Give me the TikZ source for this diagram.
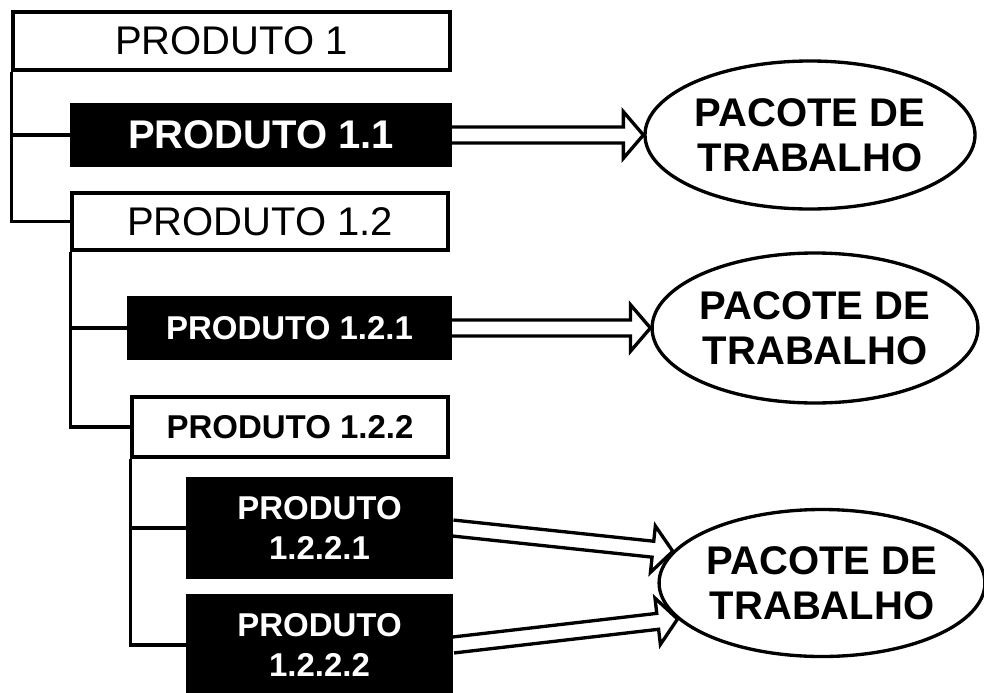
\documentclass[tikz,border=0pt]{standalone}
\usepackage{fontspec}
\setmainfont{Liberation Sans}
\usetikzlibrary{calc,shapes.geometric}

\tikzset{
  outline/.style={line width=2.5pt, line join=miter},
  plainbox/.style={rectangle, draw=black, fill=white, outline, inner sep=0pt, align=center},
  darkbox/.style={rectangle, draw=black, fill=black, text=white, outline, inner sep=0pt, align=center},
  bigtext/.style={font=\fontsize{30}{36}\selectfont},
  bigbold/.style={font=\fontsize{30}{36}\selectfont\bfseries},
  midbold/.style={font=\fontsize{24.75}{30}\selectfont\bfseries},
  workpkg/.style={ellipse, draw=black, fill=white, outline, inner sep=0pt, align=center,
    font=\fontsize{30}{33.75}\selectfont\bfseries},
  link/.style={outline},
}

% hollow double-line arrow from #1 to the tip #2
\newcommand\workarrow[2]{%
  \coordinate (wa-s) at (#1);
  \coordinate (wa-t) at (#2);
  \coordinate (wa-m) at ($(wa-t)!15pt!(wa-s)$);
  \draw[outline]
    ($(wa-s)!6pt!90:(wa-t)$) -- ($(wa-m)!6pt!90:(wa-t)$) --
    ($(wa-m)!17.5pt!90:(wa-t)$) -- (wa-t) --
    ($(wa-m)!17.5pt!-90:(wa-t)$) -- ($(wa-m)!6pt!-90:(wa-t)$) --
    ($(wa-s)!6pt!-90:(wa-t)$);
}

\begin{document}
\begin{tikzpicture}[x=0.75pt, y=-0.75pt]
  \useasboundingbox (0,0) rectangle (984,692);

  % product breakdown boxes
  \node[plainbox, bigtext, minimum width=327.75pt, minimum height=43.5pt] (p1) at (231.5,41) {PRODUTO 1};
  \node[darkbox, bigbold, minimum width=283.5pt, minimum height=45pt] (p11) at (261,135) {PRODUTO 1.1};
  \node[plainbox, bigtext, minimum width=282pt, minimum height=42.75pt] (p12) at (260,221.5) {PRODUTO 1.2};
  \node[darkbox, midbold, minimum width=240.75pt, minimum height=45pt] (p121) at (289.5,328) {PRODUTO 1.2.1};
  \node[plainbox, midbold, minimum width=237pt, minimum height=45pt] (p122) at (290,427) {PRODUTO 1.2.2};
  \node[darkbox, midbold, minimum width=197.25pt, minimum height=73.5pt] (p1221) at (319.5,528) {PRODUTO\\1.2.2.1};
  \node[darkbox, midbold, minimum width=198pt, minimum height=73.5pt] (p1222) at (319.5,645) {PRODUTO\\1.2.2.2};

  % tree connectors
  \draw[link] (p1.south west) |- (p12.west);
  \draw[link] (p1.south west |- p11.west) -- (p11.west);
  \draw[link] (p12.south west) |- (p122.west);
  \draw[link] (p12.south west |- p121.west) -- (p121.west);
  \draw[link] (p122.south west) |- (p1222.west);
  \draw[link] (p122.south west |- p1221.west) -- (p1221.west);

  % work packages
  \node[workpkg, minimum width=247.5pt, minimum height=111pt] (e1) at (810,135) {PACOTE DE\\TRABALHO};
  \node[workpkg, minimum width=241.5pt, minimum height=112.5pt] (e2) at (815,328) {PACOTE DE\\TRABALHO};
  \node[workpkg, minimum width=240pt, minimum height=110.25pt] (e3) at (822,583) {PACOTE DE\\TRABALHO};

  % arrows into the work packages
  \workarrow{p11.east}{e1.west}
  \workarrow{p121.east}{e2.west}
  \workarrow{p1221.east}{e3.168}
  \workarrow{p1222.east}{e3.194}
\end{tikzpicture}
\end{document}
